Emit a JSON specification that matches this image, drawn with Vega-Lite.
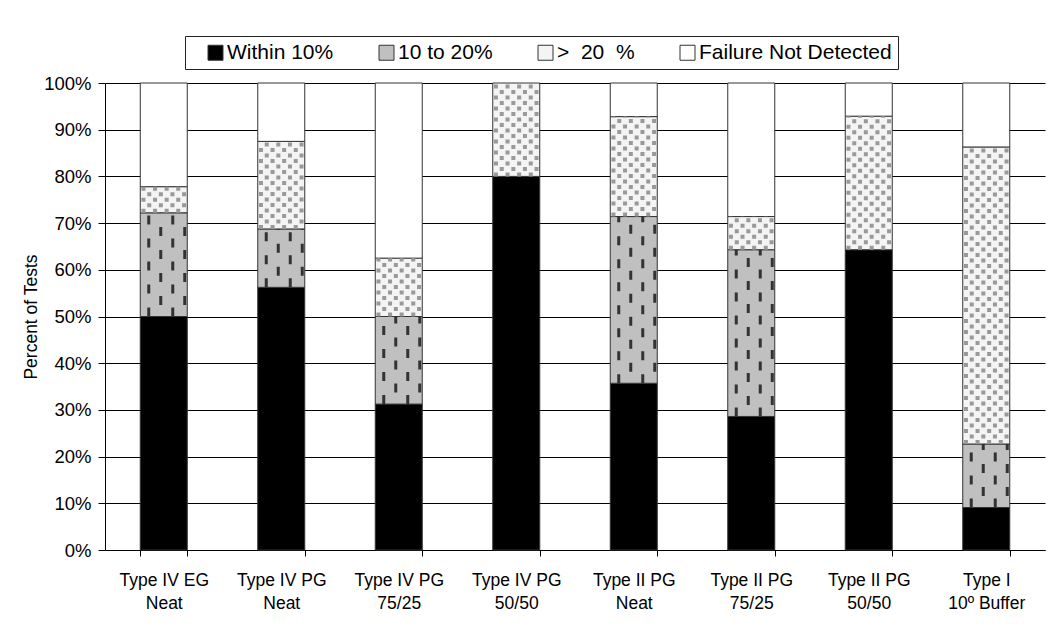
{
  "$schema": "https://vega.github.io/schema/vega-lite/v6.json",
  "width": 940,
  "height": 467,
  "autosize": "none",
  "padding": {"left": 105, "top": 83, "right": 7, "bottom": 76},
  "background": "white",
  "config": {
    "view": {"stroke": null},
    "font": "Liberation Sans",
    "axis": {"labelFont": "Liberation Sans", "titleFont": "Liberation Sans", "labelColor": "#000", "titleColor": "#000"},
    "legend": {"labelFont": "Liberation Sans"}
  },
  "data": {
    "values": [
      {"cat": "Type IV EG|Neat", "series": "Within 10%", "order": 1, "value": 50},
      {"cat": "Type IV EG|Neat", "series": "10 to 20%", "order": 2, "value": 22.2},
      {"cat": "Type IV EG|Neat", "series": "> 20 %", "order": 3, "value": 5.6},
      {"cat": "Type IV EG|Neat", "series": "Failure Not Detected", "order": 4, "value": 22.2},
      {"cat": "Type IV PG|Neat", "series": "Within 10%", "order": 1, "value": 56.25},
      {"cat": "Type IV PG|Neat", "series": "10 to 20%", "order": 2, "value": 12.5},
      {"cat": "Type IV PG|Neat", "series": "> 20 %", "order": 3, "value": 18.75},
      {"cat": "Type IV PG|Neat", "series": "Failure Not Detected", "order": 4, "value": 12.5},
      {"cat": "Type IV PG|75/25", "series": "Within 10%", "order": 1, "value": 31.25},
      {"cat": "Type IV PG|75/25", "series": "10 to 20%", "order": 2, "value": 18.75},
      {"cat": "Type IV PG|75/25", "series": "> 20 %", "order": 3, "value": 12.5},
      {"cat": "Type IV PG|75/25", "series": "Failure Not Detected", "order": 4, "value": 37.5},
      {"cat": "Type IV PG|50/50", "series": "Within 10%", "order": 1, "value": 80},
      {"cat": "Type IV PG|50/50", "series": "> 20 %", "order": 3, "value": 20},
      {"cat": "Type II  PG|Neat", "series": "Within 10%", "order": 1, "value": 35.7},
      {"cat": "Type II  PG|Neat", "series": "10 to 20%", "order": 2, "value": 35.7},
      {"cat": "Type II  PG|Neat", "series": "> 20 %", "order": 3, "value": 21.4},
      {"cat": "Type II  PG|Neat", "series": "Failure Not Detected", "order": 4, "value": 7.2},
      {"cat": "Type II PG|75/25", "series": "Within 10%", "order": 1, "value": 28.6},
      {"cat": "Type II PG|75/25", "series": "10 to 20%", "order": 2, "value": 35.7},
      {"cat": "Type II PG|75/25", "series": "> 20 %", "order": 3, "value": 7.1},
      {"cat": "Type II PG|75/25", "series": "Failure Not Detected", "order": 4, "value": 28.6},
      {"cat": "Type II PG|50/50", "series": "Within 10%", "order": 1, "value": 64.3},
      {"cat": "Type II PG|50/50", "series": "> 20 %", "order": 3, "value": 28.6},
      {"cat": "Type II PG|50/50", "series": "Failure Not Detected", "order": 4, "value": 7.1},
      {"cat": "Type I|10º Buffer", "series": "Within 10%", "order": 1, "value": 9.1},
      {"cat": "Type I|10º Buffer", "series": "10 to 20%", "order": 2, "value": 13.6},
      {"cat": "Type I|10º Buffer", "series": "> 20 %", "order": 3, "value": 63.6},
      {"cat": "Type I|10º Buffer", "series": "Failure Not Detected", "order": 4, "value": 13.7}
    ]
  },
  "encoding": {
    "x": {
      "field": "cat",
      "type": "nominal",
      "sort": null,
      "scale": {"paddingInner": 0.6, "paddingOuter": 0.3},
      "axis": {
        "title": null,
        "labelAngle": 0,
        "labelExpr": "split(datum.label, '|')",
        "labelFontSize": 17.5,
        "labelLineHeight": 23,
        "labelPadding": 15,
        "tickBand": "extent",
        "tickColor": "#000",
        "tickSize": 6,
        "domainColor": "#000",
        "grid": false
      }
    }
  },
  "layer": [
    {
      "mark": {"type": "bar", "stroke": "#333", "strokeWidth": 1},
      "encoding": {
        "y": {
          "field": "value",
          "type": "quantitative",
          "stack": "zero",
          "title": "Percent of Tests",
          "scale": {"domain": [0, 100], "nice": false},
          "axis": {
            "titleFontSize": 17.5,
            "titleFontWeight": "normal",
            "titleX": -65,
            "values": [0, 10, 20, 30, 40, 50, 60, 70, 80, 90, 100],
            "labelExpr": "datum.value + '%'",
            "labelFontSize": 18.5,
            "labelPadding": 7,
            "tickColor": "#000",
            "tickSize": 7,
            "domainColor": "#000",
            "grid": true,
            "gridColor": "#000",
            "gridOpacity": 1
          }
        },
        "color": {
          "field": "series",
          "type": "nominal",
          "scale": {
            "domain": ["Within 10%", "10 to 20%", "> 20 %", "Failure Not Detected"],
            "range": ["#000000", "#c0c0c0", "#f4f4f4", "#ffffff"]
          },
          "legend": {
            "title": null,
            "orient": "none",
            "legendX": 80,
            "legendY": -47,
            "direction": "horizontal",
            "strokeColor": "#222",
            "padding": 6,
            "symbolType": "square",
            "symbolSize": 225,
            "symbolOffset": 14,
            "symbolStrokeColor": "#333",
            "symbolStrokeWidth": 1,
            "symbolOpacity": 1,
            "labelFontSize": 21,
            "labelColor": "#000",
            "labelOffset": 1,
            "labelLimit": 400,
            "columnPadding": 28,
            "labelExpr": "datum.label === '> 20 %' ? '>\u00a0 20\u00a0 %' : datum.label === 'Failure Not Detected' ? datum.label + '\u00a0\u00a0\u00a0\u00a0' : datum.label"
          }
        },
        "order": {"field": "order", "type": "quantitative"}
      }
    },
    {
      "transform": [
        {"stack": "value", "groupby": ["cat"], "sort": [{"field": "order"}], "as": ["y0", "y1"]},
        {"filter": "datum.series === '10 to 20%'"}
      ],
      "mark": {"type": "rule", "xOffset": -15, "stroke": "#333", "strokeWidth": 3, "strokeDash": [9, 14], "strokeDashOffset": 0},
      "encoding": {"y": {"field": "y0", "type": "quantitative", "title": "Percent of Tests"}, "y2": {"field": "y1"}}
    },
    {
      "transform": [
        {"stack": "value", "groupby": ["cat"], "sort": [{"field": "order"}], "as": ["y0", "y1"]},
        {"filter": "datum.series === '10 to 20%'"}
      ],
      "mark": {"type": "rule", "xOffset": -3, "stroke": "#333", "strokeWidth": 3, "strokeDash": [9, 14], "strokeDashOffset": 11.5},
      "encoding": {"y": {"field": "y0", "type": "quantitative", "title": "Percent of Tests"}, "y2": {"field": "y1"}}
    },
    {
      "transform": [
        {"stack": "value", "groupby": ["cat"], "sort": [{"field": "order"}], "as": ["y0", "y1"]},
        {"filter": "datum.series === '10 to 20%'"}
      ],
      "mark": {"type": "rule", "xOffset": 9, "stroke": "#333", "strokeWidth": 3, "strokeDash": [9, 14], "strokeDashOffset": 0},
      "encoding": {"y": {"field": "y0", "type": "quantitative", "title": "Percent of Tests"}, "y2": {"field": "y1"}}
    },
    {
      "transform": [
        {"stack": "value", "groupby": ["cat"], "sort": [{"field": "order"}], "as": ["y0", "y1"]},
        {"filter": "datum.series === '10 to 20%'"}
      ],
      "mark": {"type": "rule", "xOffset": 21, "stroke": "#333", "strokeWidth": 3, "strokeDash": [9, 14], "strokeDashOffset": 11.5},
      "encoding": {"y": {"field": "y0", "type": "quantitative", "title": "Percent of Tests"}, "y2": {"field": "y1"}}
    },
    {
      "transform": [
        {"stack": "value", "groupby": ["cat"], "sort": [{"field": "order"}], "as": ["y0", "y1"]},
        {"filter": "datum.series === '> 20 %'"}
      ],
      "mark": {"type": "rule", "xOffset": -20.3, "stroke": "#999", "strokeWidth": 4, "strokeDash": [4, 7], "strokeDashOffset": 0},
      "encoding": {"y": {"field": "y0", "type": "quantitative", "title": "Percent of Tests"}, "y2": {"field": "y1"}}
    },
    {
      "transform": [
        {"stack": "value", "groupby": ["cat"], "sort": [{"field": "order"}], "as": ["y0", "y1"]},
        {"filter": "datum.series === '> 20 %'"}
      ],
      "mark": {"type": "rule", "xOffset": -14.5, "stroke": "#999", "strokeWidth": 4, "strokeDash": [4, 7], "strokeDashOffset": 5.5},
      "encoding": {"y": {"field": "y0", "type": "quantitative", "title": "Percent of Tests"}, "y2": {"field": "y1"}}
    },
    {
      "transform": [
        {"stack": "value", "groupby": ["cat"], "sort": [{"field": "order"}], "as": ["y0", "y1"]},
        {"filter": "datum.series === '> 20 %'"}
      ],
      "mark": {"type": "rule", "xOffset": -8.7, "stroke": "#999", "strokeWidth": 4, "strokeDash": [4, 7], "strokeDashOffset": 0},
      "encoding": {"y": {"field": "y0", "type": "quantitative", "title": "Percent of Tests"}, "y2": {"field": "y1"}}
    },
    {
      "transform": [
        {"stack": "value", "groupby": ["cat"], "sort": [{"field": "order"}], "as": ["y0", "y1"]},
        {"filter": "datum.series === '> 20 %'"}
      ],
      "mark": {"type": "rule", "xOffset": -2.9, "stroke": "#999", "strokeWidth": 4, "strokeDash": [4, 7], "strokeDashOffset": 5.5},
      "encoding": {"y": {"field": "y0", "type": "quantitative", "title": "Percent of Tests"}, "y2": {"field": "y1"}}
    },
    {
      "transform": [
        {"stack": "value", "groupby": ["cat"], "sort": [{"field": "order"}], "as": ["y0", "y1"]},
        {"filter": "datum.series === '> 20 %'"}
      ],
      "mark": {"type": "rule", "xOffset": 2.9, "stroke": "#999", "strokeWidth": 4, "strokeDash": [4, 7], "strokeDashOffset": 0},
      "encoding": {"y": {"field": "y0", "type": "quantitative", "title": "Percent of Tests"}, "y2": {"field": "y1"}}
    },
    {
      "transform": [
        {"stack": "value", "groupby": ["cat"], "sort": [{"field": "order"}], "as": ["y0", "y1"]},
        {"filter": "datum.series === '> 20 %'"}
      ],
      "mark": {"type": "rule", "xOffset": 8.7, "stroke": "#999", "strokeWidth": 4, "strokeDash": [4, 7], "strokeDashOffset": 5.5},
      "encoding": {"y": {"field": "y0", "type": "quantitative", "title": "Percent of Tests"}, "y2": {"field": "y1"}}
    },
    {
      "transform": [
        {"stack": "value", "groupby": ["cat"], "sort": [{"field": "order"}], "as": ["y0", "y1"]},
        {"filter": "datum.series === '> 20 %'"}
      ],
      "mark": {"type": "rule", "xOffset": 14.5, "stroke": "#999", "strokeWidth": 4, "strokeDash": [4, 7], "strokeDashOffset": 0},
      "encoding": {"y": {"field": "y0", "type": "quantitative", "title": "Percent of Tests"}, "y2": {"field": "y1"}}
    },
    {
      "transform": [
        {"stack": "value", "groupby": ["cat"], "sort": [{"field": "order"}], "as": ["y0", "y1"]},
        {"filter": "datum.series === '> 20 %'"}
      ],
      "mark": {"type": "rule", "xOffset": 20.3, "stroke": "#999", "strokeWidth": 4, "strokeDash": [4, 7], "strokeDashOffset": 5.5},
      "encoding": {"y": {"field": "y0", "type": "quantitative", "title": "Percent of Tests"}, "y2": {"field": "y1"}}
    }
  ]
}
